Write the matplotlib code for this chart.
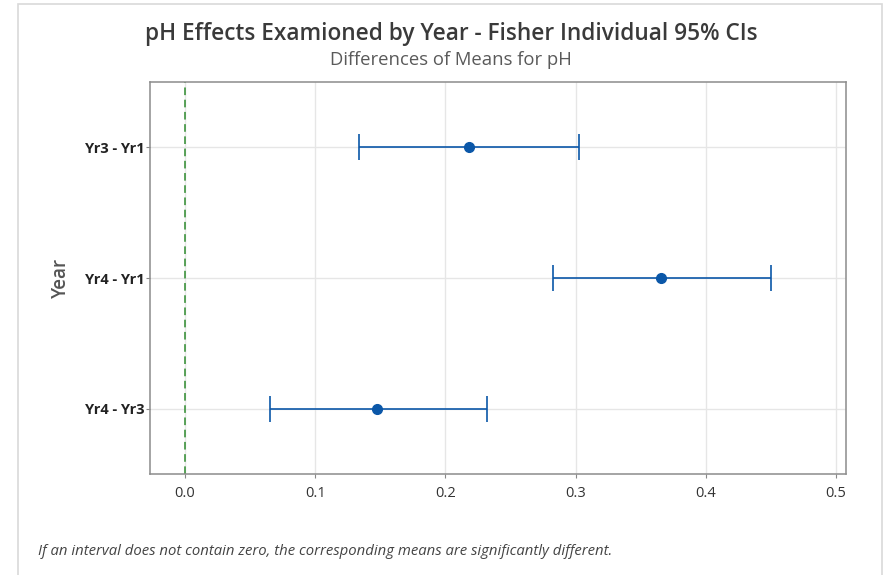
import numpy as np
import matplotlib.pyplot as plt
from matplotlib.patches import Rectangle

plt.rcParams['font.family'] = ['Open Sans', 'DejaVu Sans']

# differences of means with their 95% interval ends
pairs = ['Yr3 - Yr1', 'Yr4 - Yr1', 'Yr4 - Yr3']
centers = [0.2181, 0.3656, 0.1477]
lowers = [0.1338, 0.2826, 0.0651]
uppers = [0.3024, 0.4501, 0.2319]
xticks = [0.0, 0.1, 0.2, 0.3, 0.4, 0.5]

blue = '#0b57a8'
ypos = np.arange(len(pairs), 0, -1)

fig = plt.figure(figsize=(8.83, 5.75), dpi=100)
ax = fig.add_axes([0.170, 0.176, 0.788, 0.681])

# light frame round the whole graph window
fig.patches.append(Rectangle((0.0204, -0.02), 0.978, 1.013, transform=fig.transFigure,
                             fill=False, edgecolor='#d9d9d9', linewidth=1.2))

ax.grid(True, color='#e6e6e6', linewidth=1.0)
ax.set_axisbelow(True)

err = [np.array(centers) - np.array(lowers), np.array(uppers) - np.array(centers)]
ax.errorbar(centers, ypos, xerr=err, fmt='o', color=blue, ecolor=blue,
            markersize=7, elinewidth=1.2, capsize=9.5, capthick=1.2, zorder=3)

ax.axvline(0, color='#2e8b2e', linestyle=(0, (5, 3)), linewidth=1.1, zorder=2)

ax.set_xlim(-0.0269, 0.5077)
ax.set_ylim(0.5, 3.5)
ax.set_xticks(xticks)
ax.set_xticklabels([f'{t:.1f}' for t in xticks], fontsize=10.5, color='#333333')
ax.set_yticks(ypos)
ax.set_yticklabels(pairs, fontsize=10.5, fontweight='bold', color='#222222')
ax.tick_params(axis='both', direction='out', length=3, color='#888888')
ax.tick_params(axis='x', pad=6)
ax.tick_params(axis='y', pad=1)
for s in ax.spines.values():
    s.set_color('#8c8c8c')
    s.set_linewidth(1.1)

ax.set_ylabel('Year', fontsize=13.5, color='#555555', fontweight='semibold', labelpad=10)

fig.text(0.511, 0.941, 'pH Effects Examioned by Year - Fisher Individual 95% CIs',
         ha='center', va='center', fontsize=16.3, fontweight='semibold', color='#3a3a3a')
fig.text(0.511, 0.895, 'Differences of Means for pH', ha='center', va='center',
         fontsize=13.3, color='#5a5a5a')
fig.text(0.043, 0.041, 'If an interval does not contain zero, the corresponding means are significantly different.',
         ha='left', va='center', fontsize=10.7, style='italic', color='#444444')

plt.savefig('out.png', dpi=100)
